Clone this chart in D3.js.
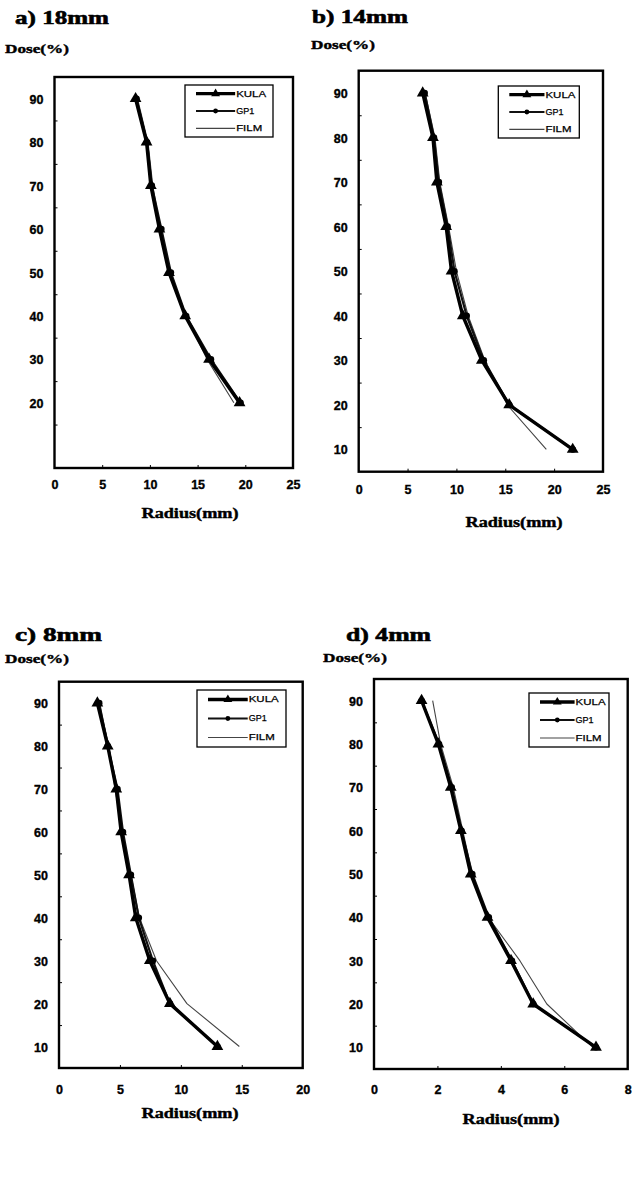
<!DOCTYPE html>
<html><head><meta charset="utf-8">
<script src="https://cdn.jsdelivr.net/npm/d3@7"></script>
<style>body{margin:0;background:#fff}svg{display:block}</style>
</head><body>
<svg id="c" width="632" height="1202"></svg>
<script>
// ---- data ----
const seriesNames = ["KULA", "GP1", "FILM"];
const panelTitles = ["a) 18mm", "b) 14mm", "c) 8mm", "d) 4mm"];

const doseA = [90, 80, 70, 60, 50, 40, 30, 20];
const kulaA = [8.5, 9.65, 10.1, 11.0, 12.0, 13.7, 16.2, 19.4];
const gp1A  = [8.6, 9.7, 10.2, 11.2, 12.2, 13.8, 16.4, 19.5];
const filmA = [8.7, 9.8, 10.3, 11.1, 12.1, 13.8, 16.0, 18.8];

const doseB = [90, 80, 70, 60, 50, 40, 30, 20, 10];
const kulaB = [6.55, 7.6, 8.0, 8.95, 9.5, 10.65, 12.6, 15.4, 21.9];
const gp1B  = [6.75, 7.7, 8.2, 9.1, 9.8, 11.05, 12.8, 15.4, 21.9];
const filmB = [6.8, 7.8, 8.3, 9.2, 10.0, 11.2, 12.9, 15.2, 19.2];

const doseC = [90, 80, 70, 60, 50, 40, 30, 20, 10];
const kulaC = [3.15, 4.0, 4.7, 5.1, 5.75, 6.3, 7.45, 9.1, 13.0];
const gp1C  = [3.3, 4.0, 4.8, 5.25, 5.9, 6.55, 7.7, 9.1, 13.0];
const filmC = [3.3, 4.1, 4.6, 5.2, 5.9, 6.6, 8.0, 10.5, 14.8];

const doseD = [90, 80, 70, 60, 50, 40, 30, 20, 10];
const kulaD = [1.5, 2.03, 2.42, 2.74, 3.05, 3.58, 4.32, 5.02, 7.0];
const gp1D  = [1.5, 2.05, 2.45, 2.76, 3.1, 3.62, 4.35, 5.02, 7.0];
const filmD = [1.85, 2.1, 2.5, 2.8, 3.1, 3.6, 4.6, 5.45, 6.9];

const xMaxes = [25, 25, 20, 8];
const xSteps = [5, 5, 5, 2];
const yLabelsA = [20, 30, 40, 50, 60, 70, 80, 90];
const yLabelsBCD = [10, 20, 30, 40, 50, 60, 70, 80, 90];
const yMinorTicks = [15, 25, 35, 45, 55, 65, 75, 85];

// ---- layout ----
const layouts = [
  {L:54.5, T:77, R:293, B:468, legR:273, legT:85, legW:88, legH:52,
   title:[15,24], dose:[5,53], radius:[190,518], xLabY:489},
  {L:358.7, T:70.7, R:603, B:471.7, legR:579.3, legT:86, legW:81, legH:52,
   title:[312,23], dose:[311,49], radius:[514,527], xLabY:494},
  {L:59, T:681.7, R:302.7, B:1068, legR:286, legT:690, legW:89, legH:57,
   title:[15,641], dose:[5,663], radius:[190,1118], xLabY:1094},
  {L:374, T:679, R:627.7, B:1069, legR:609, legT:693, legW:80, legH:54,
   title:[346,641], dose:[323,662], radius:[511,1124], xLabY:1094}
];

const panelData = [
  {dose: doseA, s: [kulaA, gp1A, filmA], yLabels: yLabelsA},
  {dose: doseB, s: [kulaB, gp1B, filmB], yLabels: yLabelsBCD},
  {dose: doseC, s: [kulaC, gp1C, filmC], yLabels: yLabelsBCD},
  {dose: doseD, s: [kulaD, gp1D, filmD], yLabels: yLabelsBCD}
];

const styles = [
  {w: 3.4, c: "#000", marker: "tri"},
  {w: 2.2, c: "#111", marker: "circ"},
  {w: 1.1, c: "#444", marker: null}
];

const svg = d3.select("#c");
const serif = "'Liberation Serif', 'DejaVu Serif', serif";
const sans = "'Liberation Sans', Arial, sans-serif";

function drawMarker(g, type, x, y, size) {
  if (type === "tri") {
    g.append("path").attr("d", d3.symbol().type(d3.symbolTriangle).size(size)())
      .attr("transform", `translate(${x},${y})`).attr("fill", "#000");
  } else if (type === "circ") {
    g.append("circle").attr("cx", x).attr("cy", y).attr("r", Math.sqrt(size / Math.PI)).attr("fill", "#000");
  }
}

layouts.forEach((lo, i) => {
  const pd = panelData[i];
  const g = svg.append("g");
  const x = d3.scaleLinear().domain([0, xMaxes[i]]).range([lo.L, lo.R]);
  const y = d3.scaleLinear().domain([5, 95]).range([lo.B, lo.T]);

  // title
  g.append("text").attr("x", lo.title[0]).attr("y", lo.title[1])
    .attr("font-family", serif).attr("font-weight", "bold").attr("font-size", 19)
    .attr("stroke", "#000").attr("stroke-width", 0.6)
    .attr("textLength", i === 0 ? 94 : i === 1 ? 96 : i === 2 ? 87 : 85).attr("lengthAdjust", "spacingAndGlyphs")
    .text(panelTitles[i]);
  // Dose label
  g.append("text").attr("x", lo.dose[0]).attr("y", lo.dose[1])
    .attr("font-family", serif).attr("font-weight", "bold").attr("font-size", 13)
    .attr("stroke", "#000").attr("stroke-width", 0.4)
    .attr("textLength", 64).attr("lengthAdjust", "spacingAndGlyphs")
    .text("Dose(%)");
  // Radius label
  g.append("text").attr("x", lo.radius[0]).attr("y", lo.radius[1])
    .attr("text-anchor", "middle")
    .attr("font-family", serif).attr("font-weight", "bold").attr("font-size", 14)
    .attr("stroke", "#000").attr("stroke-width", 0.4)
    .attr("textLength", 97).attr("lengthAdjust", "spacingAndGlyphs")
    .text("Radius(mm)");

  // axes labels via d3 axes
  const xTicks = d3.range(0, xMaxes[i] + 0.001, xSteps[i]);
  const xAxis = d3.axisBottom(x).tickValues(xTicks).tickSize(0).tickPadding(0).tickFormat(d3.format("d"));
  const xa = g.append("g").attr("transform", `translate(0,${lo.xLabY})`).call(xAxis);
  xa.select(".domain").remove();
  xa.selectAll("text").attr("font-family", sans).attr("font-weight", "bold").attr("font-size", 12.5)
    .attr("fill", "#000").attr("stroke", "#000").attr("stroke-width", 0.35).attr("dy", 0).attr("y", 0);

  const yAxis = d3.axisLeft(y).tickValues(pd.yLabels).tickSize(0).tickPadding(0).tickFormat(d3.format("d"));
  const ya = g.append("g").attr("transform", `translate(${lo.L - 11},0)`).call(yAxis);
  ya.select(".domain").remove();
  ya.selectAll("text").attr("font-family", sans).attr("font-weight", "bold").attr("font-size", 12.5)
    .attr("fill", "#000").attr("stroke", "#000").attr("stroke-width", 0.35).attr("dy", "0.36em");

  // inner tick marks
  const yt = d3.axisRight(y).tickValues(yMinorTicks).tickSize(3).tickFormat("");
  const yta = g.append("g").attr("transform", `translate(${lo.L},0)`).call(yt);
  yta.select(".domain").remove();
  yta.selectAll("line").attr("stroke", "#000").attr("stroke-width", 1);
  const xt = d3.axisTop(x).tickValues(xTicks.slice(1, -1)).tickSize(3).tickFormat("");
  const xta = g.append("g").attr("transform", `translate(0,${lo.B})`).call(xt);
  xta.select(".domain").remove();
  xta.selectAll("line").attr("stroke", "#000").attr("stroke-width", 1);

  // frame
  g.append("rect").attr("x", lo.L).attr("y", lo.T).attr("width", lo.R - lo.L).attr("height", lo.B - lo.T)
    .attr("fill", "none").attr("stroke", "#000").attr("stroke-width", 2.4);

  // series (draw FILM first, then GP1, then KULA)
  [2, 1, 0].forEach(k => {
    const pts = pd.dose.map((d, j) => [pd.s[k][j], d]);
    const line = d3.line().x(p => x(p[0])).y(p => y(p[1]));
    g.append("path").attr("d", line(pts)).attr("fill", "none")
      .attr("stroke", styles[k].c).attr("stroke-width", styles[k].w).attr("stroke-linejoin", "round");
    if (styles[k].marker) {
      pts.forEach(p => drawMarker(g, styles[k].marker, x(p[0]), y(p[1]), styles[k].marker === "tri" ? 60 : 34));
    }
  });

  // legend
  const lx = lo.legR - lo.legW, ly = lo.legT;
  g.append("rect").attr("x", lx).attr("y", ly).attr("width", lo.legW).attr("height", lo.legH)
    .attr("fill", "#fff").attr("stroke", "#000").attr("stroke-width", 1.3);
  const rowH = lo.legH / 3;
  seriesNames.forEach((nm, k) => {
    const cy = ly + rowH * (k + 0.5);
    const x0 = lx + 11, x1 = lx + lo.legW * 0.57;
    g.append("line").attr("x1", x0).attr("x2", x1).attr("y1", cy).attr("y2", cy)
      .attr("stroke", styles[k].c).attr("stroke-width", styles[k].w);
    if (styles[k].marker) drawMarker(g, styles[k].marker, (x0 + x1) / 2, cy, styles[k].marker === "tri" ? 34 : 18);
    g.append("text").attr("x", x1 + 1).attr("y", cy).attr("dy", "0.35em")
      .attr("font-family", sans).attr("font-size", 8.5)
      .attr("stroke", "#000").attr("stroke-width", 0.25)
      .attr("textLength", nm === "GP1" ? 18 : nm === "KULA" ? 30 : 26).attr("lengthAdjust", "spacingAndGlyphs")
      .text(nm);
  });
});
</script>
</body></html>
